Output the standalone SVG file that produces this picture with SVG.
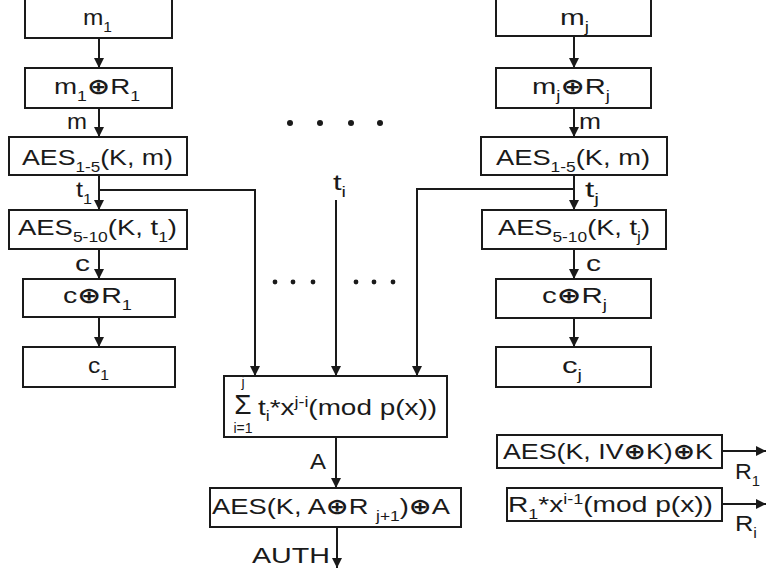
<svg xmlns="http://www.w3.org/2000/svg" width="767" height="571" viewBox="0 0 767 571">
  <defs>
    <marker id="arr" viewBox="0 0 10 10" refX="10" refY="5" markerWidth="10" markerHeight="12" markerUnits="userSpaceOnUse" orient="auto">
      <path d="M0,0 L10,5 L0,10 Z" fill="#1a1a1a"/>
    </marker>
    <style>
      .box { fill: #fff; stroke: #1a1a1a; stroke-width: 2; }
      .ar { fill: none; stroke: #1a1a1a; stroke-width: 2; marker-end: url(#arr); }
      text { font-family: "Liberation Sans", Arial, "DejaVu Sans", sans-serif; font-size: 22px; fill: #1a1a1a; }
      .s { font-size: 14px; }
      .x { font-weight: bold; }
      .dot { fill: #1a1a1a; }
    </style>
  </defs>
  <rect width="767" height="571" fill="#fff"/>

  <!-- connectors -->
  <g id="connectors">
    <!-- left chain -->
    <line class="ar" x1="99" y1="38" x2="99" y2="68"/>
    <line class="ar" x1="99" y1="108" x2="99" y2="137"/>
    <line class="ar" x1="99" y1="175" x2="99" y2="210"/>
    <line class="ar" x1="99" y1="249" x2="99" y2="279"/>
    <line class="ar" x1="99" y1="317" x2="99" y2="347"/>
    <polyline class="ar" points="99,190 255,190 255,376"/>
    <!-- right chain -->
    <line class="ar" x1="574" y1="36" x2="574" y2="68"/>
    <line class="ar" x1="574" y1="108" x2="574" y2="137"/>
    <line class="ar" x1="574" y1="175" x2="574" y2="210"/>
    <line class="ar" x1="574" y1="249" x2="574" y2="279"/>
    <line class="ar" x1="574" y1="318" x2="574" y2="347"/>
    <polyline class="ar" points="574,189 417,189 417,376"/>
    <!-- middle -->
    <line class="ar" x1="336" y1="200" x2="336" y2="376"/>
    <line class="ar" x1="336" y1="437" x2="336" y2="488"/>
    <line class="ar" x1="337" y1="527" x2="337" y2="568"/>
    <!-- side outputs -->
    <line class="ar" x1="722" y1="451" x2="766" y2="451"/>
    <line class="ar" x1="722" y1="504" x2="766" y2="504"/>
  </g>

  <!-- left column -->
  <g id="m1">
    <rect class="box" x="25" y="-5" width="147" height="43"/>
    <text x="83" y="25" textLength="29" lengthAdjust="spacingAndGlyphs">m<tspan class="s" dy="7">1</tspan></text>
  </g>
  <g id="m1xorR1">
    <rect class="box" x="25" y="68" width="147" height="40"/>
    <text x="54" y="94" textLength="86" lengthAdjust="spacingAndGlyphs">m<tspan class="s" dy="7">1</tspan><tspan class="x" dy="-7">⊕</tspan>R<tspan class="s" dy="7">1</tspan></text>
  </g>
  <g id="aes15L">
    <rect class="box" x="9" y="137" width="178" height="38"/>
    <text x="22" y="165" textLength="151" lengthAdjust="spacingAndGlyphs">AES<tspan class="s" dy="7">1-5</tspan><tspan dy="-7">(K, m)</tspan></text>
  </g>
  <g id="aes510L">
    <rect class="box" x="9" y="210" width="178" height="39"/>
    <text x="18" y="235" textLength="159" lengthAdjust="spacingAndGlyphs">AES<tspan class="s" dy="7">5-10</tspan><tspan dy="-7">(K, t</tspan><tspan class="s" dy="7">1</tspan><tspan dy="-7">)</tspan></text>
  </g>
  <g id="cxorR1">
    <rect class="box" x="23" y="279" width="152" height="38"/>
    <text x="63" y="303" textLength="69" lengthAdjust="spacingAndGlyphs">c<tspan class="x">⊕</tspan>R<tspan class="s" dy="7">1</tspan></text>
  </g>
  <g id="c1">
    <rect class="box" x="23" y="347" width="152" height="40"/>
    <text x="88" y="373" textLength="21" lengthAdjust="spacingAndGlyphs">c<tspan class="s" dy="7">1</tspan></text>
  </g>
  <g id="labelsL">
    <text x="67" y="129" textLength="20" lengthAdjust="spacingAndGlyphs">m</text>
    <text x="76" y="197" textLength="16" lengthAdjust="spacingAndGlyphs">t<tspan class="s" dy="7">1</tspan></text>
    <text x="75" y="271" textLength="15" lengthAdjust="spacingAndGlyphs">c</text>
  </g>

  <!-- right column -->
  <g id="mj">
    <rect class="box" x="496" y="-5" width="155" height="41"/>
    <text x="560" y="25" textLength="29" lengthAdjust="spacingAndGlyphs">m<tspan class="s" dy="7">j</tspan></text>
  </g>
  <g id="mjxorRj">
    <rect class="box" x="496" y="68" width="155" height="40"/>
    <text x="532" y="94" textLength="78" lengthAdjust="spacingAndGlyphs">m<tspan class="s" dy="7">j</tspan><tspan class="x" dy="-7">⊕</tspan>R<tspan class="s" dy="7">j</tspan></text>
  </g>
  <g id="aes15R">
    <rect class="box" x="481" y="137" width="186" height="38"/>
    <text x="496" y="165" textLength="154" lengthAdjust="spacingAndGlyphs">AES<tspan class="s" dy="7">1-5</tspan><tspan dy="-7">(K, m)</tspan></text>
  </g>
  <g id="aes510R">
    <rect class="box" x="482" y="210" width="184" height="39"/>
    <text x="498" y="235" textLength="152" lengthAdjust="spacingAndGlyphs">AES<tspan class="s" dy="7">5-10</tspan><tspan dy="-7">(K, t</tspan><tspan class="s" dy="7">j</tspan><tspan dy="-7">)</tspan></text>
  </g>
  <g id="cxorRj">
    <rect class="box" x="496" y="279" width="155" height="39"/>
    <text x="542" y="303" textLength="65" lengthAdjust="spacingAndGlyphs">c<tspan class="x">⊕</tspan>R<tspan class="s" dy="7">j</tspan></text>
  </g>
  <g id="cj">
    <rect class="box" x="496" y="347" width="155" height="40"/>
    <text x="562" y="373" textLength="20" lengthAdjust="spacingAndGlyphs">c<tspan class="s" dy="7">j</tspan></text>
  </g>
  <g id="labelsR">
    <text x="579" y="129" textLength="22" lengthAdjust="spacingAndGlyphs">m</text>
    <text x="585" y="197" textLength="14" lengthAdjust="spacingAndGlyphs">t<tspan class="s" dy="7">j</tspan></text>
    <text x="586" y="271" textLength="15" lengthAdjust="spacingAndGlyphs">c</text>
  </g>

  <!-- middle -->
  <g id="dots">
    <circle class="dot" cx="290" cy="123" r="3"/>
    <circle class="dot" cx="320" cy="123" r="3"/>
    <circle class="dot" cx="351" cy="123" r="3"/>
    <circle class="dot" cx="380" cy="123" r="3"/>
    <circle class="dot" cx="275" cy="282" r="2.4"/>
    <circle class="dot" cx="293" cy="282" r="2.4"/>
    <circle class="dot" cx="313" cy="282" r="2.4"/>
    <circle class="dot" cx="356" cy="282" r="2.4"/>
    <circle class="dot" cx="374" cy="282" r="2.4"/>
    <circle class="dot" cx="393" cy="282" r="2.4"/>
  </g>
  <g id="ti">
    <text x="333" y="190" textLength="13" lengthAdjust="spacingAndGlyphs">t<tspan class="s" dy="7">i</tspan></text>
  </g>
  <g id="sum">
    <rect class="box" x="224" y="376" width="223" height="61"/>
    <text x="243" y="387" class="s" text-anchor="middle">j</text>
    <text x="243" y="414" text-anchor="middle" style="font-size:28px">Σ</text>
    <text x="243" y="433" class="s" text-anchor="middle">i=1</text>
    <text x="258" y="415" textLength="179" lengthAdjust="spacingAndGlyphs">t<tspan class="s" dy="6">i</tspan><tspan dy="-6">*x</tspan><tspan class="s" dy="-8">j-i</tspan><tspan dy="8">(mod p(x))</tspan></text>
  </g>
  <g id="labelA">
    <text x="310" y="469" textLength="16" lengthAdjust="spacingAndGlyphs">A</text>
  </g>
  <g id="auth">
    <rect class="box" x="210" y="488" width="251" height="39"/>
    <text x="212" y="514" textLength="238" lengthAdjust="spacingAndGlyphs">AES(K, A<tspan class="x">⊕</tspan>R <tspan class="s" dy="7">j+1</tspan><tspan dy="-7">)</tspan><tspan class="x">⊕</tspan>A</text>
  </g>
  <g id="labelAUTH">
    <text x="252" y="563" textLength="78" lengthAdjust="spacingAndGlyphs">AUTH</text>
  </g>

  <!-- side boxes -->
  <g id="R1gen">
    <rect class="box" x="497" y="435" width="225" height="33"/>
    <text x="503" y="459" textLength="210" lengthAdjust="spacingAndGlyphs">AES(K, IV<tspan class="x">⊕</tspan>K)<tspan class="x">⊕</tspan>K</text>
    <text x="735" y="479" textLength="25" lengthAdjust="spacingAndGlyphs">R<tspan class="s" dy="7">1</tspan></text>
  </g>
  <g id="Rigen">
    <rect class="box" x="507" y="488" width="215" height="33"/>
    <text x="508" y="512" textLength="205" lengthAdjust="spacingAndGlyphs">R<tspan class="s" dy="7">1</tspan><tspan dy="-7">*x</tspan><tspan class="s" dy="-8">i-1</tspan><tspan dy="8">(mod p(x))</tspan></text>
    <text x="735" y="531" textLength="22" lengthAdjust="spacingAndGlyphs">R<tspan class="s" dy="7">i</tspan></text>
  </g>
</svg>
